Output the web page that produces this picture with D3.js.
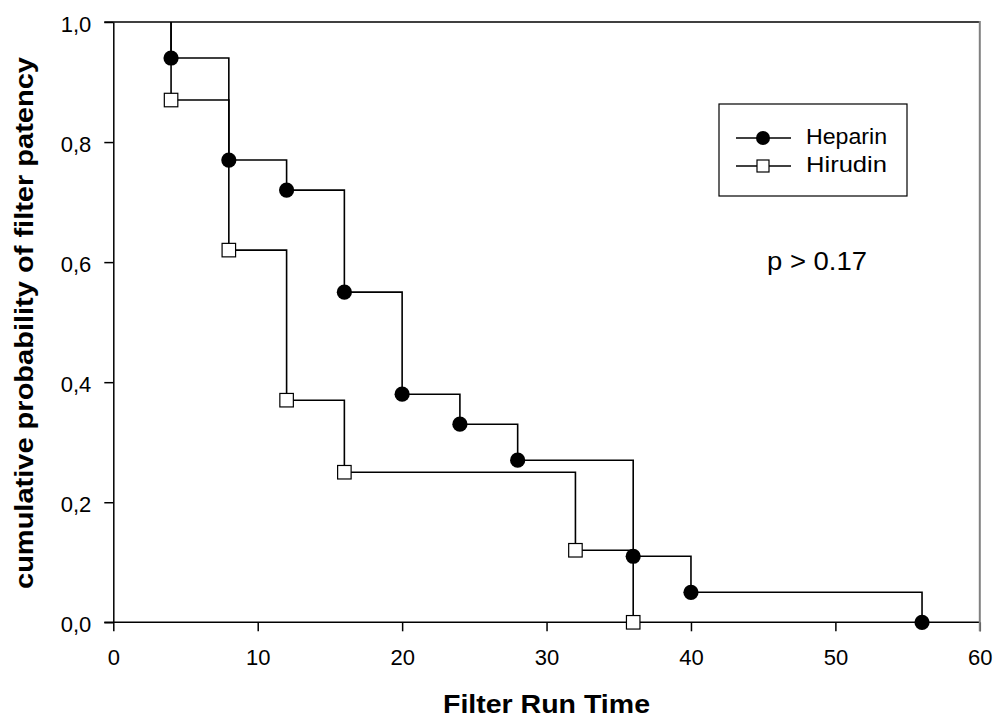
<!DOCTYPE html>
<html><head><meta charset="utf-8">
<script src="https://cdn.jsdelivr.net/npm/d3@7"></script>
<style>body{margin:0;background:#fff} svg{display:block}</style>
</head><body>
<svg id="chart" width="995" height="719"></svg>
<script>
// ---- data ----
const heparinTimes = [4, 8, 12, 16, 20, 24, 28, 36, 40, 56];
const heparinSurvival = [0.94, 0.77, 0.72, 0.55, 0.38, 0.33, 0.27, 0.11, 0.05, 0.0];
const hirudinTimes = [4, 8, 12, 16, 32, 36];
const hirudinSurvival = [0.87, 0.62, 0.37, 0.25, 0.12, 0.0];
const startSurvival = 1.0;
const xTicks = [0, 10, 20, 30, 40, 50, 60];
const yTicks = [0, 0.2, 0.4, 0.6, 0.8, 1.0];
const seriesNames = ["Heparin", "Hirudin"];
const xTitle = "Filter Run Time";
const yTitle = "cumulative  probability of filter patency";
const pText = "p > 0.17";

const FONT = "'Liberation Sans', Arial, Helvetica, sans-serif";
const svg = d3.select("#chart");
const x = d3.scaleLinear().domain([0, 60]).range([113.3, 979.8]);
const y = d3.scaleLinear().domain([0, 1]).range([622.3, 22]);

// axes
const gx = svg.append("g").attr("transform", `translate(0,${y(0)})`)
  .call(d3.axisBottom(x).tickValues(xTicks).tickSize(9).tickSizeOuter(0).tickFormat(d3.format("d")));
gx.selectAll("text").attr("y", 0).attr("dy", 0).attr("transform", "translate(0,42.7)")
  .style("font-size", "22px").style("font-family", FONT).attr("fill", "#000");
const gy = svg.append("g").attr("transform", `translate(${x(0)},0)`)
  .call(d3.axisLeft(y).tickValues(yTicks).tickSize(9).tickSizeOuter(0)
    .tickFormat(d => d3.format(".1f")(d).replace(".", ",")));
gy.selectAll("text").attr("x", -22).attr("dy", "0.44em")
  .style("font-size", "22px").style("font-family", FONT).attr("fill", "#000");
svg.selectAll(".domain, .tick line").attr("stroke", "#000").attr("stroke-width", 1.5);
gx.select(".domain").attr("d", `M${x(0) - 9},0H${x(60)}`);

// frame
svg.append("line").attr("x1", x(0) - 9).attr("x2", x(60)).attr("y1", y(1)).attr("y2", y(1))
  .attr("stroke", "#000").attr("stroke-width", 1.5);
svg.append("line").attr("x1", x(60)).attr("x2", x(60)).attr("y1", y(1) - 1).attr("y2", y(0) + 9)
  .attr("stroke", "#808080").attr("stroke-width", 2);

// step lines
const line = d3.line().x(d => x(d[0])).y(d => y(d[1])).curve(d3.curveStepAfter);
function pts(times, surv) {
  return [[times[0], startSurvival]].concat(times.map((t, i) => [t, surv[i]]));
}
const hep = pts(heparinTimes, heparinSurvival);
const hir = pts(hirudinTimes, hirudinSurvival);
[hep, hir].forEach(p => {
  svg.append("path").attr("d", line(p)).attr("fill", "none")
    .attr("stroke", "#000").attr("stroke-width", 1.6);
});

// markers
const R = 7.6, S = 13.5;
svg.append("g").selectAll("circle").data(heparinTimes.map((t, i) => [t, heparinSurvival[i]]))
  .join("circle").attr("cx", d => x(d[0])).attr("cy", d => y(d[1])).attr("r", R).attr("fill", "#000");
svg.append("g").selectAll("rect").data(hirudinTimes.map((t, i) => [t, hirudinSurvival[i]]))
  .join("rect").attr("x", d => x(d[0]) - S / 2).attr("y", d => y(d[1]) - S / 2)
  .attr("width", S).attr("height", S).attr("fill", "#fff").attr("stroke", "#000").attr("stroke-width", 1.2);

// legend
const lg = svg.append("g");
lg.append("rect").attr("x", 719).attr("y", 104).attr("width", 188).attr("height", 92)
  .attr("fill", "#fff").attr("stroke", "#000").attr("stroke-width", 1.2);
const rows = [138, 166];
seriesNames.forEach((name, i) => {
  const ly = rows[i];
  lg.append("line").attr("x1", 736).attr("x2", 791).attr("y1", ly).attr("y2", ly)
    .attr("stroke", "#000").attr("stroke-width", 1.5);
  if (i === 0) lg.append("circle").attr("cx", 763).attr("cy", ly).attr("r", 7).attr("fill", "#000");
  else lg.append("rect").attr("x", 763 - 6).attr("y", ly - 6).attr("width", 12).attr("height", 12)
    .attr("fill", "#fff").attr("stroke", "#000").attr("stroke-width", 1.2);
  lg.append("text").attr("x", 806).attr("y", ly + 6).text(name)
    .attr("textLength", 81).attr("lengthAdjust", "spacingAndGlyphs")
    .style("font-size", "22px").style("font-family", FONT).attr("fill", "#000");
});

// p-value
svg.append("text").attr("x", 767).attr("y", 270).text(pText)
  .attr("textLength", 100).attr("lengthAdjust", "spacingAndGlyphs")
  .style("font-size", "25px").style("font-family", FONT).attr("fill", "#000");

// titles
svg.append("text").attr("x", 546.5).attr("y", 713).attr("text-anchor", "middle").text(xTitle)
  .attr("textLength", 207).attr("lengthAdjust", "spacingAndGlyphs")
  .style("font-size", "26px").style("font-weight", "bold").style("font-family", FONT).attr("fill", "#000");
svg.append("text").attr("transform", "translate(33,323) rotate(-90)").attr("text-anchor", "middle").text(yTitle)
  .attr("textLength", 532).attr("lengthAdjust", "spacingAndGlyphs")
  .style("font-size", "25px").style("font-weight", "bold").style("font-family", FONT).attr("fill", "#000");
</script>
</body></html>
